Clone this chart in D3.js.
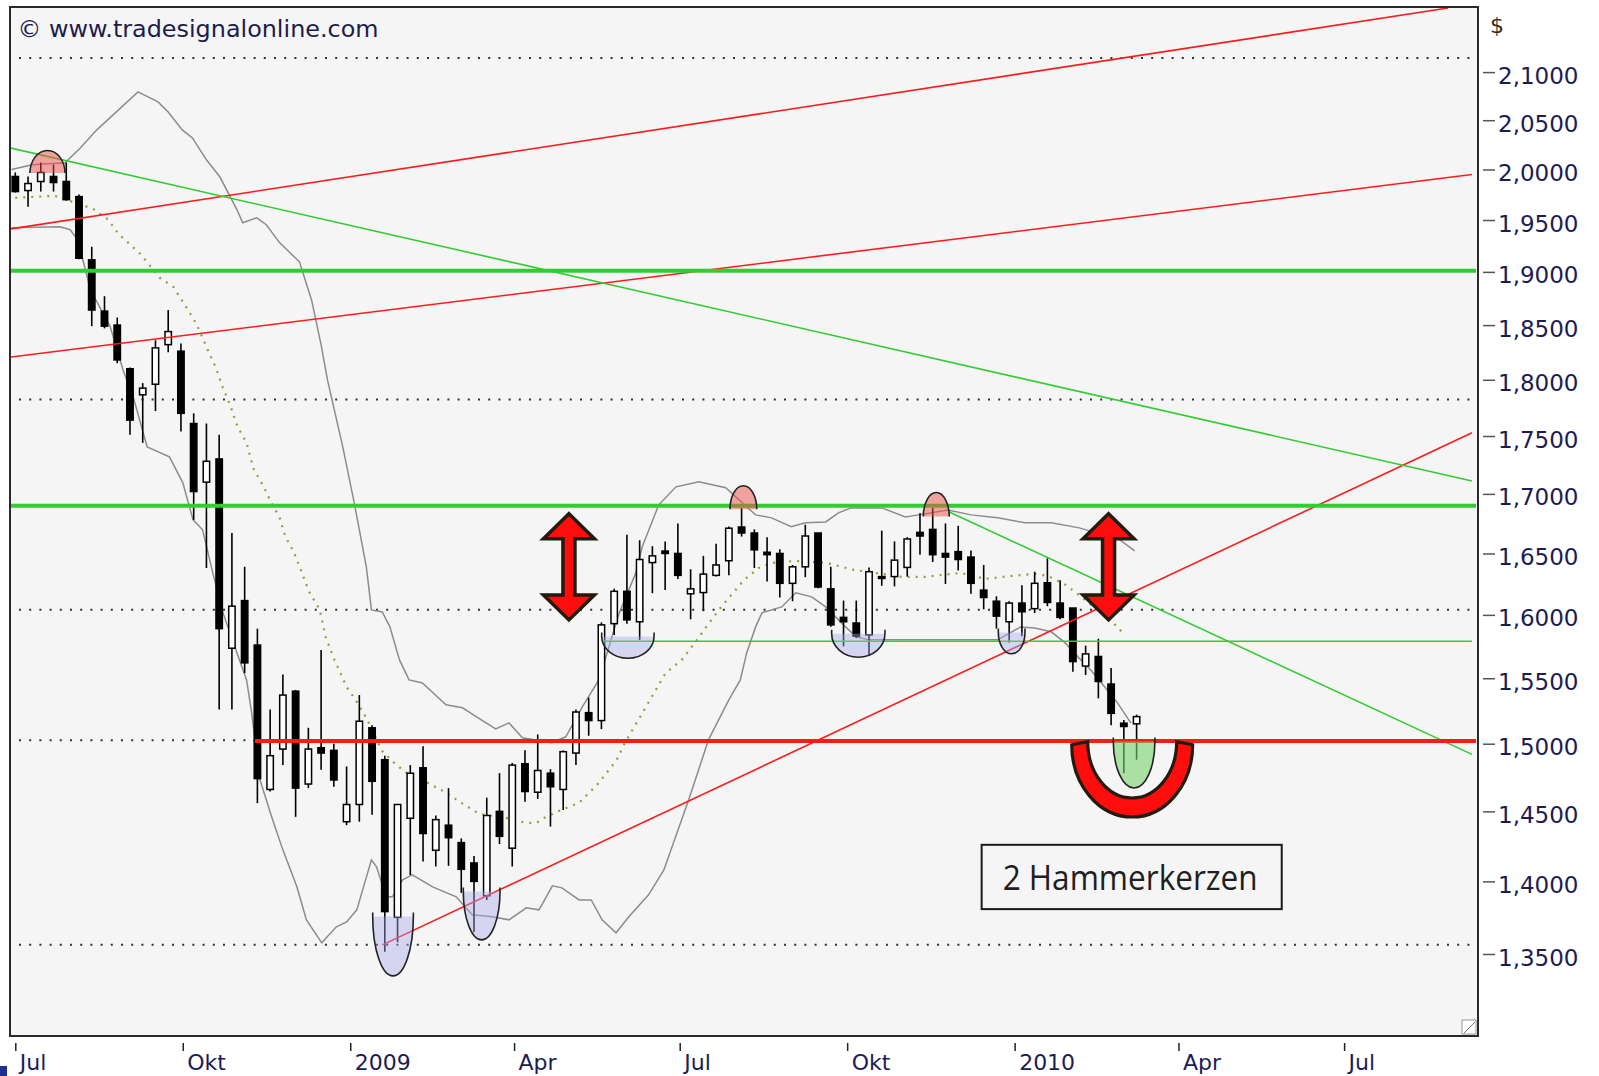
<!DOCTYPE html>
<html><head><meta charset="utf-8">
<script src="https://cdn.jsdelivr.net/npm/d3@7"></script>
<style>body{margin:0;background:#fff}svg{display:block}</style>
</head><body><svg id="c" width="1599" height="1076"></svg>
<script>
// ---------- DATA ----------
const startDate = new Date(2008, 6, 1);           // first weekly candle
const open  = [1.993,1.979,1.988,1.993,1.988,1.973,1.9115,1.863,1.850,1.810,1.7865,1.796,1.832,1.826,1.761,1.710,1.730,1.5735,1.6115,1.576,1.466,1.496,1.540,1.470,1.497,1.495,1.4425,1.455,1.512,1.488,1.375,1.445,1.482,1.422,1.440,1.4275,1.413,1.390,1.450,1.4235,1.485,1.464,1.478,1.466,1.493,1.5235,1.5175,1.593,1.619,1.5945,1.6425,1.652,1.650,1.617,1.618,1.632,1.644,1.672,1.667,1.651,1.650,1.6255,1.639,1.667,1.621,1.598,1.5935,1.584,1.631,1.631,1.6385,1.6675,1.670,1.650,1.6515,1.647,1.620,1.611,1.5945,1.6095,1.605,1.626,1.6095,1.6055,1.5595,1.567,1.5455,1.5155,1.515];
const high  = [1.997,1.993,2.007,2.005,2.007,1.975,1.924,1.877,1.857,1.811,1.797,1.836,1.864,1.833,1.770,1.761,1.751,1.667,1.639,1.589,1.526,1.553,1.541,1.512,1.572,1.500,1.483,1.537,1.514,1.491,1.455,1.484,1.498,1.447,1.467,1.4305,1.418,1.460,1.478,1.4855,1.495,1.507,1.481,1.495,1.526,1.535,1.594,1.621,1.6655,1.661,1.656,1.660,1.675,1.637,1.648,1.658,1.6725,1.688,1.670,1.6635,1.6535,1.6405,1.674,1.667,1.639,1.6115,1.6115,1.6385,1.669,1.660,1.6635,1.6835,1.688,1.675,1.673,1.6525,1.6405,1.615,1.611,1.624,1.635,1.646,1.628,1.6055,1.5755,1.581,1.558,1.518,1.522];
const low   = [1.977,1.963,1.978,1.978,1.969,1.912,1.849,1.847,1.815,1.751,1.744,1.772,1.825,1.754,1.678,1.638,1.526,1.526,1.554,1.456,1.4645,1.484,1.446,1.467,1.4805,1.468,1.440,1.4425,1.4475,1.3515,1.358,1.4045,1.414,1.4105,1.411,1.392,1.365,1.387,1.4265,1.4105,1.457,1.459,1.439,1.451,1.484,1.506,1.511,1.584,1.593,1.580,1.6175,1.620,1.629,1.5965,1.603,1.631,1.632,1.664,1.638,1.627,1.614,1.611,1.6305,1.6215,1.5905,1.575,1.5815,1.568,1.6235,1.623,1.631,1.649,1.643,1.625,1.636,1.617,1.6045,1.589,1.578,1.583,1.6015,1.607,1.5965,1.555,1.5525,1.5345,1.514,1.478,1.488];
const close = [1.978,1.986,1.997,1.987,1.970,1.913,1.864,1.849,1.818,1.764,1.7925,1.829,1.844,1.770,1.702,1.728,1.589,1.607,1.562,1.474,1.491,1.537,1.467,1.496,1.493,1.473,1.455,1.517,1.472,1.379,1.455,1.478,1.434,1.444,1.431,1.4085,1.400,1.447,1.432,1.484,1.4645,1.480,1.468,1.494,1.524,1.5175,1.592,1.619,1.596,1.645,1.648,1.650,1.632,1.621,1.633,1.6405,1.671,1.667,1.653,1.649,1.6255,1.639,1.6645,1.6225,1.592,1.5945,1.583,1.635,1.6295,1.6445,1.662,1.6645,1.649,1.647,1.645,1.6255,1.614,1.599,1.6095,1.6025,1.6255,1.610,1.598,1.563,1.569,1.5475,1.523,1.513,1.5205];

// Bollinger bands and moving average (week index, value)
const upperW = [-0.3,1.33,3.9,5.1,6.4,9.63,11.2,12.0,13.1,13.9,15.0,16.05,17.4,17.85,18.95,19.7,20.75,22.3,23.25,24.0,24.5,25.7,26.6,27.55,27.95,28.8,29.4,30.15,30.9,31.95,33.8,35.1,36.2,37.7,38.75,39.8,42.1,43.2,44.5,45.8,47.4,48.7,49.2,50.5,51.85,53.65,55.75,58.1,59.35,60.9,62.0,63.6,64.6,65.6,68.0,69.85,70.9,73.2,75.0,77.1,79.25,81.3,83.5,86.7,87.85];
const upperV = [2.000,2.0047,2.0067,2.0217,2.0401,2.0793,2.0689,2.0585,2.0401,2.0319,2.0097,1.9927,1.9600,1.9473,1.9522,1.9454,1.9278,1.9096,1.8735,1.8318,1.7999,1.7405,1.6924,1.6389,1.6040,1.6024,1.5904,1.5643,1.5487,1.5464,1.5295,1.5272,1.5203,1.5112,1.5157,1.5044,1.5007,1.5052,1.5280,1.5487,1.6016,1.6340,1.6555,1.6907,1.7060,1.7103,1.7052,1.6822,1.6797,1.6722,1.6755,1.6763,1.6839,1.6881,1.6881,1.6805,1.6822,1.6864,1.6822,1.6797,1.6755,1.6755,1.6713,1.6613,1.6522];
const lowerW = [-0.3,3.5,4.3,4.9,5.9,7.45,8.45,9.25,10.35,12.1,13.15,13.95,14.7,15.5,16.3,17.4,18.15,18.55,19.2,20.2,21.0,22.1,22.85,24.05,25.2,26.0,26.8,27.95,28.35,29.1,29.6,30.4,31.15,32.75,34.6,35.85,37.45,38.75,40.1,41.1,42.15,42.9,44.25,45.2,46.05,47.15,48.15,49.7,50.9,52.85,54.4,56.0,56.9,57.4,58.1,58.6,60.15,61.25,62.5,63.6,65.15,66.0,66.95,75.0,77.1,78.9,80.0,81.3,82.4,83.4,84.4,85.5,86.5,87.55];
const lowerV = [1.9424,1.9434,1.9405,1.9307,1.8830,1.8484,1.8090,1.7847,1.7405,1.7318,1.7094,1.6780,1.6697,1.6340,1.6016,1.5698,1.5487,1.5233,1.4731,1.4438,1.4223,1.3962,1.3733,1.3576,1.3685,1.3719,1.3802,1.4152,1.4103,1.3892,1.3892,1.4011,1.4046,1.3962,1.3892,1.3768,1.3754,1.3733,1.3816,1.3802,1.3969,1.3955,1.3871,1.3871,1.3733,1.3644,1.3754,1.3906,1.4081,1.4584,1.5029,1.5333,1.5487,1.5698,1.5904,1.6016,1.6064,1.6178,1.6145,1.6064,1.5904,1.5825,1.5801,1.5801,1.5801,1.5904,1.5896,1.5865,1.5777,1.5667,1.5565,1.5433,1.5310,1.5157];
const maW = [0,3.1,6.1,7.3,8.1,9.8,11.35,12.4,13.55,14.25,15.1,15.75,16.2,16.85,17.45,18.15,18.7,19.5,20.1,20.75,21.2,21.85,22.4,23.1,23.9,24.35,25.05,26.0,26.8,27.55,28.8,29.9,31.1,32.35,33.85,35.0,36.4,38.5,40.1,40.9,41.5,42.85,44.25,45.8,47.2,47.8,51.05,52.3,53.5,54.4,55.35,56.2,57.2,58.35,59.35,61.3,63.65,65.8,67.5,69.55,71.4,74.2,76.1,78.15,80.0,81.05,82.45,83.25,86.1,87.05];
const maV = [1.9718,1.9738,1.9610,1.9502,1.9365,1.9173,1.8943,1.8858,1.8642,1.8503,1.8273,1.8108,1.7954,1.7775,1.7580,1.7440,1.7214,1.7060,1.6924,1.6797,1.6638,1.6513,1.6365,1.6178,1.6040,1.5825,1.5643,1.5433,1.5318,1.5195,1.4944,1.4842,1.4753,1.4709,1.4635,1.4562,1.4482,1.4453,1.4416,1.4416,1.4453,1.4511,1.4562,1.4709,1.4879,1.4999,1.5542,1.5643,1.5801,1.5928,1.6057,1.6162,1.6283,1.6381,1.6422,1.6439,1.6422,1.6365,1.6340,1.6308,1.6308,1.6340,1.6291,1.6315,1.6332,1.6315,1.6242,1.6178,1.5944,1.5841];

// Trend lines: [startWeek, startValue, endWeek, endValue]
const thinRed   = [[-0.34,1.9414,112.44,2.1685],[-0.34,1.8206,114.32,1.995],[28.81,1.3562,114.32,1.7528]];
const thinGreen = [[-0.34,2.0215,114.32,1.711],[73.22,1.6850,114.32,1.4920],[46.12,1.579,114.32,1.579]];
const thickGreen = [[-0.4,1.901,114.64,1.901],[-0.4,1.690,114.64,1.690]];
const thickRed   = [[18.81,1.5021,114.64,1.5021]];
const gridValues = [2.1149,1.7822,1.6042,1.5026,1.3562];

// Highlights: [leftWeek, rightWeek, baseValue, extremeValue]
const tops      = [[1.15,3.90,1.9964,2.0191],[56.09,58.19,1.6870,1.7069],[71.26,73.30,1.6808,1.7012]];
const bottoms   = [[28.05,31.24,1.3756,1.3353],[35.16,38.04,1.3929,1.3596],[46.02,50.13,1.5827,1.5656],[64.07,68.25,1.5849,1.5664],[77.15,79.24,1.5859,1.5691]];
const hammerBowl = [[86.17,89.44,1.5016,1.4670]];
const bigU       = [[82.91,92.40,1.4992,1.4459]];
const arrowsW = [43.45,85.80];
const arrowTopV = 1.6848, arrowBotV = 1.5944;
const noteBox = [75.84,99.39,1.4259,1.3807];
const noteText = "2 Hammerkerzen";

const yTicks = [2.10,2.05,2.00,1.95,1.90,1.85,1.80,1.75,1.70,1.65,1.60,1.55,1.50,1.45,1.40,1.35];
const xTicks = [new Date(2008,6,1),new Date(2008,9,1),new Date(2009,0,1),new Date(2009,3,1),new Date(2009,6,1),new Date(2009,9,1),new Date(2010,0,1),new Date(2010,3,1),new Date(2010,6,1)];
const xTickLabels = ["Jul","Okt","2009","Apr","Jul","Okt","2010","Apr","Jul"];

// ---------- CHART ----------
const svg = d3.select("#c");
const P = {l:10, t:7, r:1478, b:1036};
const x = d3.scaleTime().domain([new Date(2008,6,1), new Date(2010,6,1)]).range([15.3,1344.1]);
const y = d3.scaleLog().domain([2.1,1.35]).range([72.1,954]);
const wd = w => new Date(startDate.getTime() + w*7*864e5);
const X = w => x(wd(w));

svg.append("rect").attr("width",1599).attr("height",1076).attr("fill","#fff");
svg.append("rect").attr("x",P.l).attr("y",P.t).attr("width",P.r-P.l).attr("height",P.b-P.t).attr("fill","#f5f5f5");
svg.append("defs").append("clipPath").attr("id","clip").append("rect")
  .attr("x",P.l+1).attr("y",P.t+1).attr("width",P.r-P.l-2).attr("height",P.b-P.t-2);
const plot = svg.append("g").attr("clip-path","url(#clip)");

// dotted grid
plot.selectAll(".grid").data(gridValues).join("line")
  .attr("x1",19).attr("x2",P.r).attr("y1",d=>y(d)).attr("y2",d=>y(d))
  .attr("stroke","#333").attr("stroke-width",2).attr("stroke-dasharray","2 8.2");

// bands
const line = d3.line().x(d=>X(d[0])).y(d=>y(d[1]));
[[upperW,upperV],[lowerW,lowerV]].forEach(([W,V])=>{
  plot.append("path").attr("d",line(W.map((w,i)=>[w,V[i]])))
    .attr("fill","none").attr("stroke","#8c8c8c").attr("stroke-width",1.5);
});
plot.append("path").attr("d",line(maW.map((w,i)=>[w,maV[i]])))
  .attr("fill","none").attr("stroke","#9a9a38").attr("stroke-width",2.2).attr("stroke-dasharray","2 6");

// candles
const candles = open.map((o,i)=>({i,o,h:high[i],l:low[i],c:close[i]}));
const cg = plot.selectAll(".cd").data(candles).join("g");
cg.append("line").attr("x1",d=>X(d.i)).attr("x2",d=>X(d.i))
  .attr("y1",d=>y(d.h)).attr("y2",d=>y(d.l)).attr("stroke","#000").attr("stroke-width",1.6);
cg.append("rect").attr("x",d=>X(d.i)-3.2).attr("width",6.4)
  .attr("y",d=>y(Math.max(d.o,d.c)))
  .attr("height",d=>Math.max(1.5,Math.abs(y(d.o)-y(d.c))))
  .attr("fill",d=>d.c>=d.o?"#fff":"#000").attr("stroke","#000").attr("stroke-width",1.5);

// trend lines
function drawLines(arr,color,width){
  plot.selectAll(null).data(arr).join("line")
    .attr("x1",d=>X(d[0])).attr("y1",d=>y(d[1])).attr("x2",d=>X(d[2])).attr("y2",d=>y(d[3]))
    .attr("stroke",color).attr("stroke-width",width);
}
drawLines(thinRed,"#ff1a1a",1.6);
drawLines(thinGreen,"#33cc33",1.6);
drawLines(thickGreen,"#33cc33",4);
drawLines(thickRed,"#ff1a1a",4);

// highlight domes (tops)
tops.forEach(([a,b,base,ext])=>{
  const x0=X(a), x1=X(b), rx=(x1-x0)/2, yb=y(base), ry=yb-y(ext);
  plot.append("path").attr("d",`M${x0},${yb}A${rx},${ry} 0 0 1 ${x1},${yb}Z`)
    .attr("fill","rgba(238,80,72,0.5)").attr("stroke","none");
  plot.append("path").attr("d",`M${x0},${yb}A${rx},${ry} 0 0 1 ${x1},${yb}`)
    .attr("fill","none").attr("stroke","#222").attr("stroke-width",1.6);
});
function bowl(arr,fill){
  arr.forEach(([a,b,top,ext])=>{
    const x0=X(a), x1=X(b), rx=(x1-x0)/2, yt=y(top), ry=y(ext)-yt;
    plot.append("path").attr("d",`M${x0},${yt}A${rx},${ry} 0 0 0 ${x1},${yt}Z`)
      .attr("fill",fill).attr("stroke","none");
    plot.append("path").attr("d",`M${x0},${yt-4}L${x0},${yt}A${rx},${ry} 0 0 0 ${x1},${yt}L${x1},${yt-4}`)
      .attr("fill","none").attr("stroke","#222").attr("stroke-width",1.6);
  });
}
bowl(bottoms,"rgba(170,170,235,0.42)");
bowl(hammerBowl,"rgba(120,210,110,0.6)");

// big U
bigU.forEach(([a,b,top,ext])=>{
  const x0=X(a), x1=X(b), cx=(x0+x1)/2, rxo=(x1-x0)/2, yt=y(top), ryo=y(ext)-yt, t=16;
  const rxi=rxo-t, ryi=ryo-t;
  plot.append("path")
    .attr("d",`M${cx-rxo},${yt}A${rxo},${ryo} 0 0 0 ${cx+rxo},${yt}L${cx+rxi},${yt-3}A${rxi},${ryi} 0 0 1 ${cx-rxi},${yt-3}Z`)
    .attr("fill","#ff0d0d").attr("stroke","#231a10").attr("stroke-width",3.2).attr("stroke-linejoin","miter");
});

// double arrows
arrowsW.forEach(w=>{
  const cx=X(w), t=y(arrowTopV)+2, b=y(arrowBotV)-2, hw=25.5, hh=25, sw=6;
  const pts=[[cx,t],[cx+hw,t+hh],[cx+sw,t+hh],[cx+sw,b-hh],[cx+hw,b-hh],[cx,b],[cx-hw,b-hh],[cx-sw,b-hh],[cx-sw,t+hh],[cx-hw,t+hh]];
  plot.append("path").attr("d","M"+pts.map(p=>p.join(",")).join("L")+"Z")
    .attr("fill","#ff0d0d").attr("stroke","#231a10").attr("stroke-width",3.5).attr("stroke-linejoin","miter");
});

// note box
{
  const x0=X(noteBox[0]), x1=X(noteBox[1]), y0=y(noteBox[2]), y1=y(noteBox[3]);
  plot.append("rect").attr("x",x0).attr("y",y0).attr("width",x1-x0).attr("height",y1-y0)
    .attr("fill","#f5f5f5").attr("stroke","#1a1a1a").attr("stroke-width",2);
  plot.append("text").attr("x",x0+21).attr("y",y1-19.5).text(noteText)
    .attr("font-family","Open Sans").attr("font-size",35).attr("fill","#1e1e1e")
    .attr("textLength",255).attr("lengthAdjust","spacingAndGlyphs");
}

// watermark
svg.append("text").attr("x",17.5).attr("y",36.7).text("© www.tradesignalonline.com")
  .attr("font-family","DejaVu Sans").attr("font-size",23.5).attr("fill","#1c1c4c")
  .attr("textLength",361).attr("lengthAdjust","spacingAndGlyphs");

// frame
svg.append("rect").attr("x",P.l).attr("y",P.t).attr("width",P.r-P.l).attr("height",P.b-P.t)
  .attr("fill","none").attr("stroke","#2a2a2a").attr("stroke-width",2);
svg.append("rect").attr("x",1462).attr("y",1020).attr("width",14).attr("height",14).attr("fill","#fff").attr("stroke","#999");
svg.append("line").attr("x1",1464).attr("y1",1033).attr("x2",1475).attr("y2",1022).attr("stroke","#777");

// y axis
const yAxis = d3.axisRight(y).tickValues(yTicks).tickSize(12).tickPadding(3)
  .tickFormat(d=>d3.format(".4f")(d).replace(".",","));
const gy = svg.append("g").attr("transform","translate(1483,0)").call(yAxis);
gy.select(".domain").remove();
gy.selectAll(".tick line").attr("stroke","#555").attr("stroke-width",1.5);
gy.selectAll(".tick text").attr("font-family","DejaVu Sans").attr("font-size",23).attr("fill","#1c1c55").attr("dy","0.48em");
svg.append("text").attr("x",1490).attr("y",33).text("$")
  .attr("font-family","DejaVu Sans").attr("font-size",22).attr("fill","#3a2a20");

// x axis
const xAxis = d3.axisBottom(x).tickValues(xTicks).tickSize(8).tickFormat((d,i)=>xTickLabels[i]);
const gx = svg.append("g").attr("transform","translate(0,1043)").call(xAxis);
gx.select(".domain").remove();
gx.selectAll(".tick line").attr("stroke","#222").attr("stroke-width",1.5);
gx.selectAll(".tick text").attr("font-family","DejaVu Sans").attr("font-size",22).attr("fill","#1c1c55")
  .attr("text-anchor","start").attr("x",4).attr("y",26.5).attr("dy",0);

svg.append("rect").attr("x",0).attr("y",1066).attr("width",7).attr("height",10).attr("fill","#1f2f8f");
</script></body></html>
